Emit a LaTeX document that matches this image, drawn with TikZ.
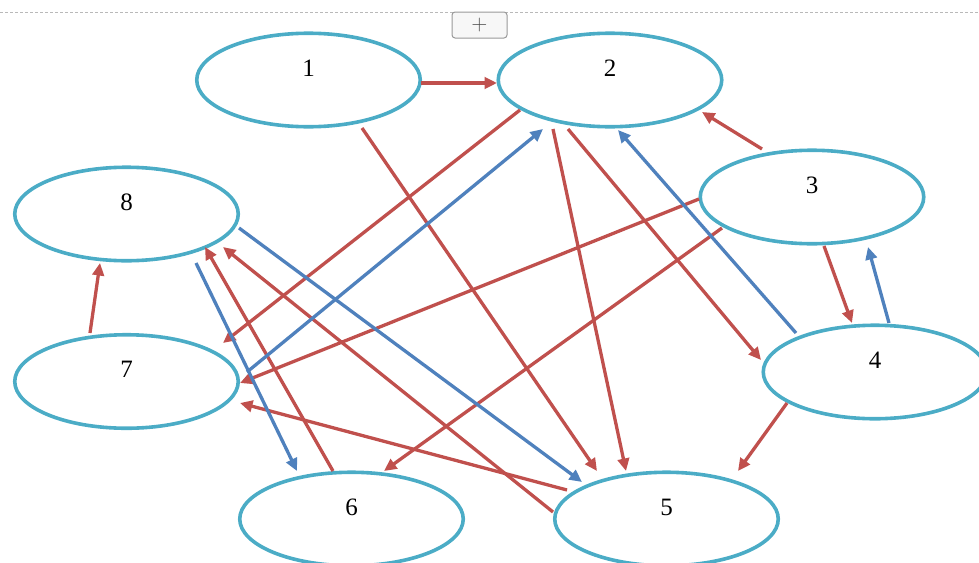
\documentclass[tikz,border=0pt]{standalone}
\usepackage{fontspec}
\setmainfont{Liberation Serif}
\usetikzlibrary{arrows.meta,shapes.geometric}
\definecolor{edgered}{HTML}{C0504D}
\definecolor{edgeblue}{HTML}{4F81BD}
\definecolor{ellcol}{HTML}{4BACC6}
\tikzset{
  vnode/.style={ellipse, draw=ellcol, line width=3.6pt, minimum width=223.5pt, minimum height=93.5pt, inner sep=0pt},
  vlab/.style={font=\fontsize{25}{30}\selectfont},
  redarrow/.style={draw=edgered, line width=3.3pt, -{Triangle[length=12.5pt,width=11.5pt]}, fill=edgered},
  bluearrow/.style={draw=edgeblue, line width=3.3pt, -{Triangle[length=12.5pt,width=11.5pt]}, fill=edgeblue},
}
\newcommand{\vlabel}[2]{\node[vlab] (#1t) at ([yshift=12pt]#1.center) {#2};}
\begin{document}
\begin{tikzpicture}[x=1pt,y=-1pt]
\useasboundingbox (0,0) rectangle (979,562);
\clip (0,0) rectangle (979,562);
% top dashed line and button
\draw[gray!55, line width=0.8pt, dash pattern=on 3pt off 2pt] (0,12) -- (979,12);
\node[draw=gray!80, fill=gray!6, rounded corners=3pt, minimum width=55pt, minimum height=26pt, inner sep=0pt, line width=1pt, text=black!70, font=\sffamily\fontsize{22}{24}\selectfont] (btn) at (479.5,25) {+};
% nodes
\node[vnode] (n1) at (308.5,80) {};
\node[vnode] (n2) at (610,80) {};
\node[vnode] (n3) at (812,197) {};
\node[vnode] (n4) at (875,372) {};
\node[vnode] (n5) at (666.5,519) {};
\node[vnode] (n6) at (351.5,519) {};
\node[vnode] (n7) at (126.5,381.5) {};
\node[vnode] (n8) at (126.5,214) {};
\vlabel{n1}{1}
\vlabel{n2}{2}
\vlabel{n3}{3}
\vlabel{n4}{4}
\vlabel{n5}{5}
\vlabel{n6}{6}
\vlabel{n7}{7}
\vlabel{n8}{8}
% red edges
\draw[redarrow] ([shift={(112.5,3)}]n1.center) -- ([shift={(-113,3)}]n2.center);
\draw[redarrow] ([shift={(53.5,48)}]n1.center) -- ([shift={(-69.5,-48)}]n5.center);
\draw[redarrow] ([shift={(-90,30)}]n2.center) -- ([shift={(96.5,-38.5)}]n7.center);
\draw[redarrow] ([shift={(-57,49)}]n2.center) -- ([shift={(-40.5,-48)}]n5.center);
\draw[redarrow] ([shift={(-42,49)}]n2.center) -- ([shift={(-114,-12)}]n4.center);
\draw[redarrow] ([shift={(-50,-48)}]n3.center) -- ([shift={(92,32)}]n2.center);
\draw[redarrow] ([shift={(-113,2)}]n3.center) -- ([shift={(113.5,1.5)}]n7.center);
\draw[redarrow] ([shift={(-90,31)}]n3.center) -- ([shift={(32.5,-48)}]n6.center);
\draw[redarrow] ([shift={(12,49)}]n3.center) -- ([shift={(-23,-49)}]n4.center);
\draw[redarrow] ([shift={(-88,31)}]n4.center) -- ([shift={(71.5,-48)}]n5.center);
\draw[redarrow] ([shift={(-99.5,-29)}]n5.center) -- ([shift={(113.5,21.5)}]n7.center);
\draw[redarrow] ([shift={(-113.5,-7)}]n5.center) -- ([shift={(96.5,33)}]n8.center);
\draw[redarrow] ([shift={(-18.5,-48)}]n6.center) -- ([shift={(78.5,33)}]n8.center);
\draw[redarrow] ([shift={(-36.5,-48.5)}]n7.center) -- ([shift={(-26.5,49)}]n8.center);
% blue edges
\draw[bluearrow] ([shift={(112.5,14)}]n8.center) -- ([shift={(-84.5,-37)}]n5.center);
\draw[bluearrow] ([shift={(69.5,49)}]n8.center) -- ([shift={(-54.5,-48)}]n6.center);
\draw[bluearrow] ([shift={(120.5,-9.5)}]n7.center) -- ([shift={(-67,49)}]n2.center);
\draw[bluearrow] ([shift={(-79,-39)}]n4.center) -- ([shift={(8,50)}]n2.center);
\draw[bluearrow] ([shift={(14,-49)}]n4.center) -- ([shift={(56,50)}]n3.center);
\end{tikzpicture}
\end{document}
